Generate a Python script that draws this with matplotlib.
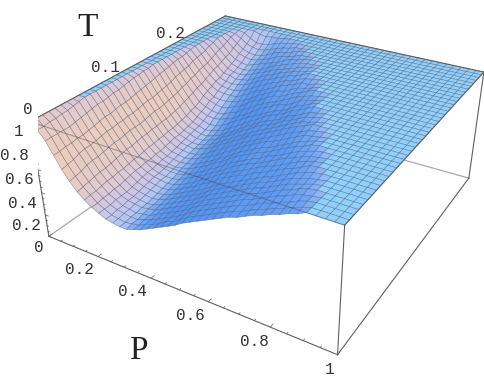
import numpy as np
import matplotlib
matplotlib.use("Agg")
import matplotlib.pyplot as plt

W, H = 484, 379

t_max = 0.28
n_grid = 41

# surface height in percent, one row per T step
# rows are cut short after the last value below 100
z_rows = [
    [100,95,88,78,68,60,53,48,44,41,38,37,36,36,38,40,43,46,49,52,55,59,62,65,68,71,74,77,79,82,85,87,90,92,95,97],
    [100,95,88,78,69,61,54,49,44,41,38,37,36,37,38,41,43,46,50,52,56,60,63,66,69,72,75,78,80,83,86,88,91,93,96,98],
    [100,96,88,79,70,62,55,49,45,41,39,38,37,37,39,41,44,47,50,53,57,61,64,67,70,73,76,79,81,84,87,89,92,94,97,99],
    [100,96,88,79,72,64,56,50,45,42,39,38,37,38,39,42,45,48,51,54,58,62,65,68,71,74,77,80,82,85,88,91,93,96,98,99],
    [100,97,88,80,73,65,57,51,46,42,40,39,38,39,40,43,46,49,52,55,59,63,66,69,72,75,78,81,83,86,89,92,94,97,99],
    [100,97,89,80,73,65,57,51,46,42,40,39,38,39,41,44,47,50,53,56,60,64,67,70,73,76,79,82,84,87,90,93,95,97,99],
    [100,98,90,81,74,66,58,52,47,43,41,40,39,40,42,45,48,51,54,57,61,65,68,71,74,77,80,83,85,88,91,94,96,98,99],
    [100,99,91,82,75,67,59,52,48,44,42,41,40,41,43,46,49,52,55,58,62,66,69,72,75,78,81,84,86,89,92,95,97,99],
    [100,100,92,83,76,68,60,53,49,45,43,42,41,42,44,47,50,53,57,60,64,68,71,74,76,80,82,85,88,91,93,96,99],
    [100,100,93,84,76,68,61,54,49,46,44,43,42,43,45,48,51,55,58,62,66,69,72,75,78,81,84,86,89,92,95,97,99],
    [100,100,93,84,77,69,61,54,50,46,44,43,43,44,47,50,53,56,60,63,67,71,74,77,79,82,85,88,91,93,96,98,99],
    [100,100,94,85,77,70,62,55,50,47,45,44,44,45,48,51,54,58,61,65,69,72,75,78,80,84,86,89,92,95,97,99],
    [100,100,95,86,78,70,63,56,51,48,46,45,46,47,50,53,56,60,63,67,71,74,77,80,82,85,88,91,94,96,99],
    [100,100,95,86,78,70,63,56,51,48,47,46,47,48,51,54,57,61,64,68,72,75,78,81,83,86,89,92,95,97,99],
    [100,100,96,87,79,71,64,57,52,49,48,47,48,50,53,56,59,63,66,70,74,77,80,83,85,88,91,94,97,98,99],
    [100,100,97,88,80,72,64,57,53,50,49,48,49,51,54,58,61,65,68,72,75,78,81,84,87,90,93,95,98,99],
    [100,100,98,89,81,73,65,58,54,51,50,49,51,53,56,60,63,67,70,74,77,80,83,86,89,92,95,97],
    [100,100,98,90,81,73,65,58,54,52,50,50,52,54,57,61,64,68,71,75,78,81,84,87,90,93,96,97,99],
    [100,100,99,91,82,74,66,59,55,53,51,51,53,55,59,62,66,70,73,77,80,82,85,89,91,94,97,98],
    [100,100,99,92,83,75,67,60,56,54,52,52,54,56,60,63,67,71,74,78,81,83,86,90,92,95,98,99],
    [100,100,100,93,84,76,68,61,57,55,53,54,56,58,62,65,69,73,76,80,83,85,88,92,94,97],
    [100,100,100,94,85,77,70,63,59,57,55,56,58,61,65,68,72,75,78,81,84,86,89,93,95,98],
    [100,100,100,95,87,79,71,64,61,59,58,59,61,63,67,70,74,78,81,84,87,88,91,95,97,98],
    [100,100,100,96,88,80,73,66,63,61,60,61,64,66,70,73,77,80,83,85,88,91,94,96,98,99],
    [100,100,100,97,89,82,75,69,66,64,63,64,67,69,73,77,79,83,86,87,90,93,95,98],
    [100,100,100,97,90,83,76,71,67,66,66,67,69,72,75,79,82,85,88,89,92,95,96,98],
    [100,100,100,98,92,85,78,73,70,69,69,69,72,75,79,81,84,87,90,92,94,97,97,99],
    [100,100,100,99,93,86,80,75,72,71,71,72,75,78,81,84,87,89,92,93,96,98,99],
    [100,100,100,100,94,87,82,76,74,73,74,75,78,81,84,86,89,91,94,95,98],
    [100,100,100,100,95,89,83,78,77,75,76,77,80,83,86,88,91,93,95,97,98],
    [100,100,100,100,97,91,85,80,78,77,78,80,83,85,88,90,92,94,96,98,99],
    [100,100,100,100,98,93,87,82,80,79,80,82,84,87,90,92,94,96,98,99,99],
    [100,100,100,100,100,94,88,84,82,81,83,85,87,89,91,94,96,97,99],
    [100,100,100,100,100,96,91,87,85,84,85,87,89,92,94,95,97,99,99],
    [100,100,100,100,100,98,93,89,87,86,87,89,92,94,95,97,99],
    [100,100,100,100,100,99,96,92,90,89,90,92,94,96,97,99,99],
    [100,100,100,100,100,100,99,95,92,92,93,95,97,98,99],
    [100,100,100,100,100,100,100,100,98,97,98,98,99],
    [],
    [],
    [],
]

# surface colour against slope along P
slope_stops = [-1.4, -0.8, -0.3, 0.0, 0.25, 0.5]
slope_red = [238, 222, 198, 172, 118, 80]
slope_green = [205, 202, 198, 200, 172, 150]
slope_blue = [185, 212, 238, 246, 250, 250]
flat_colour = (142, 208, 255)

z_labels = ["0", "0.2", "0.4", "0.6", "0.8", "1"]
z_label_xy = [(39,248), (26,226), (22,203), (19,180), (14.5,156), (19,132)]
p_labels = ["0.2", "0.4", "0.6", "0.8", "1"]
p_label_xy = [(79,269), (132,292), (190,316), (254,342), (330,370)]
t_labels = ["0", "0.1", "0.2"]
t_label_xy = [(28,110), (105,68), (170,33)]

# camera, fitted to the corners of the box in the picture
elev, azim, focal = 29.7776, -59.0089, 0.3332
box = (1.0543, 1.0566, 0.4223)
scale, cx, cy = 2444.68, 270.59, 152.60

Z = np.array([r + [100] * (n_grid - len(r)) for r in z_rows], float) / 100
P, T = np.meshgrid(np.linspace(0, 1, n_grid), np.linspace(0, t_max, n_grid))

fig = plt.figure(figsize=(W / 100, H / 100), dpi=100)
ax = fig.add_axes([0, 0, 1, 1], projection="3d", computed_zorder=False)
vl = ax.viewLim
size = scale * vl.width
left = cx + scale * vl.x0
bottom = H - (cy - scale * vl.y0)
ax.set_position([left / W, bottom / H, size / W, size / H])
ax.set_xlim(0, 1)
ax.set_ylim(0, t_max)
ax.set_zlim(0, 1)
ax.view_init(elev=elev, azim=azim)
ax.set_proj_type("persp", focal_length=focal)
ax.set_box_aspect(box)
ax.set_axis_off()
ax.patch.set_alpha(0)

# colour each cell from the slope of the surface, smoothed over neighbours
def smooth(a):
    pad = np.pad(a, 1, mode="edge")
    return sum(pad[1 + i:a.shape[0] + 1 + i, 1 + j:a.shape[1] + 1 + j]
               for i in (-1, 0, 1) for j in (-1, 0, 1)) / 9

raw = np.gradient(Z * box[2], box[0] / (n_grid - 1), axis=1)
inside = (Z < 1).astype(float)
plain = smooth(smooth(raw))
# masked version keeps the sharp blue edge where the surface meets the flat part
masked = smooth(raw * inside) / np.maximum(smooth(inside), 0.01)
masked = smooth(masked * inside) / np.maximum(smooth(inside), 0.01)
slope = np.where(inside > 0, np.maximum(plain, masked), plain)
cell_slope = (slope[:-1, :-1] + slope[1:, :-1] + slope[:-1, 1:] + slope[1:, 1:]) / 4
face = np.dstack([np.interp(cell_slope, slope_stops, c)
                  for c in (slope_red, slope_green, slope_blue)]) / 255
cell_flat = (Z[:-1, :-1] == 1) & (Z[1:, :-1] == 1) & (Z[:-1, 1:] == 1) & (Z[1:, 1:] == 1)
face[cell_flat] = np.array(flat_colour) / 255

# back edges go behind the surface
back = "#a8a8a8"
ax.plot([0, 0], [0, t_max], [0, 0], color=back, lw=0.9, zorder=1)
ax.plot([0, 1], [t_max, t_max], [0, 0], color=back, lw=0.9, zorder=1)

ax.plot_surface(P, T, Z, facecolors=face, rstride=1, cstride=1, shade=False,
                edgecolor=(0.3, 0.3, 0.35, 0.55), linewidth=0.42, zorder=2)

dark = "#606060"
edges = [
    ([0, 0], [0, 0], [0, 1]),
    ([0, 1], [0, 0], [0, 0]),
    ([1, 1], [0, 0], [0, 1]),
    ([1, 1], [0, t_max], [0, 0]),
    ([1, 1], [t_max, t_max], [0, 1]),
    ([0, 0], [0, t_max], [1, 1]),
    ([0, 1], [t_max, t_max], [1, 1]),
    ([1, 1], [0, t_max], [1, 1]),
]
for xs, ys, zs in edges:
    ax.plot(xs, ys, zs, color=dark, lw=0.8, zorder=3)
ax.plot([0, 1], [0, 0], [1, 1], color="#404050", lw=0.8, alpha=0.4, zorder=3)

for p in np.arange(0, 1.001, 0.05):
    ln = 0.004 if round(p * 20) % 4 == 0 else 0.002
    ax.plot([p, p], [0, ln], [0, 0], color=dark, lw=0.5, zorder=3)
for z in np.arange(0, 1.001, 0.05):
    ln = 0.012 if round(z * 20) % 4 == 0 else 0.006
    ax.plot([0, ln], [0, 0], [z, z], color=dark, lw=0.5, zorder=3)

mono = dict(family="Liberation Mono", fontsize=11.5, color="#333333", ha="center", va="center")
for labels, xy in ((z_labels, z_label_xy), (p_labels, p_label_xy), (t_labels, t_label_xy)):
    for s, (x, y) in zip(labels, xy):
        fig.text(x / W, 1 - y / H, s, **mono)
big = dict(family="Liberation Serif", fontsize=24, color="#222222", ha="center", va="center")
fig.text(88 / W, 1 - 28 / H, "T", **big)
fig.text(138 / W, 1 - 351 / H, "P", **big)

fig.savefig("out.png", dpi=100)
